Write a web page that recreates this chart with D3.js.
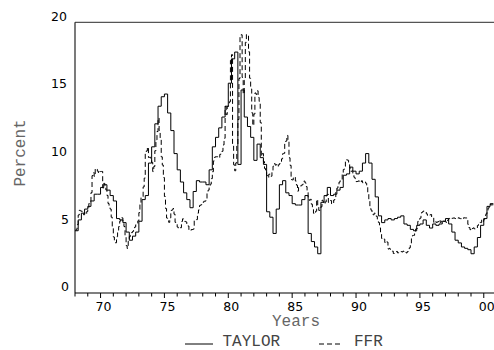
<!DOCTYPE html>
<html><head><meta charset="utf-8">
<script src="https://cdn.jsdelivr.net/npm/d3@7"></script>
<style>body{margin:0;background:#fff}svg{display:block}</style>
</head><body>
<script>
// Federal funds rate, monthly, Jan 1968 .. Sep 2000
const ffrStart = 1968;
const ffr = [
4.61,4.71,5.05,5.76,6.11,6.07,6.03,6.03,5.78,5.91,5.82,6.02,
6.30,6.61,6.79,7.41,8.67,8.90,8.61,9.19,9.15,9.00,8.85,8.97,
8.98,8.98,7.76,8.10,7.95,7.61,7.21,6.61,6.29,6.20,5.60,4.90,
4.14,3.72,3.71,4.16,4.63,4.91,5.31,5.57,5.55,5.20,4.91,4.14,
3.50,3.29,3.83,4.17,4.27,4.46,4.55,4.80,4.87,5.04,5.06,5.33,
5.94,6.58,7.09,7.12,7.84,8.49,10.40,10.50,10.78,10.01,10.03,9.95,
9.65,8.97,9.35,10.51,11.31,11.93,12.92,12.01,11.34,10.06,9.45,8.53,
7.13,6.24,5.54,5.49,5.22,5.55,6.10,6.14,6.24,5.82,5.22,5.20,
4.87,4.77,4.84,4.82,5.29,5.48,5.31,5.29,5.25,5.03,4.95,4.65,
4.61,4.68,4.69,4.73,5.35,5.39,5.42,5.90,6.14,6.47,6.51,6.56,
6.70,6.78,6.79,6.89,7.36,7.60,7.81,8.04,8.45,8.96,9.76,10.03,
10.07,10.06,10.09,10.01,10.24,10.29,10.47,10.94,11.43,13.77,13.18,13.78,
13.82,14.13,17.19,17.61,10.98,9.47,9.03,9.61,10.87,12.81,15.85,18.90,
19.08,15.93,14.70,15.72,18.52,19.10,19.04,17.82,15.87,15.08,13.31,12.37,
13.22,14.78,14.68,14.94,14.45,14.15,12.59,10.12,10.31,9.71,9.20,8.95,
8.68,8.51,8.77,8.80,8.63,8.98,9.37,9.56,9.45,9.48,9.34,9.47,
9.56,9.59,9.91,10.29,10.32,11.06,11.23,11.64,11.30,9.99,9.43,8.38,
8.35,8.50,8.58,8.27,7.97,7.53,7.88,7.90,7.92,7.99,8.05,8.27,
8.14,7.86,7.48,6.99,6.85,6.92,6.56,6.17,5.89,5.85,6.04,6.91,
6.43,6.10,6.13,6.37,6.85,6.73,6.58,6.73,7.22,7.29,6.69,6.77,
6.83,6.58,6.58,6.87,7.09,7.51,7.75,8.01,8.19,8.30,8.35,8.76,
9.12,9.36,9.85,9.84,9.81,9.53,9.24,8.99,9.02,8.84,8.55,8.45,
8.23,8.24,8.28,8.26,8.18,8.29,8.15,8.13,8.20,8.11,7.81,7.31,
6.91,6.25,6.12,5.91,5.78,5.90,5.82,5.66,5.45,5.21,4.81,4.43,
4.03,4.06,3.98,3.73,3.82,3.76,3.25,3.30,3.22,3.10,3.09,2.92,
3.02,3.03,3.07,2.96,3.00,3.04,3.06,3.03,3.09,2.99,3.02,2.96,
3.05,3.25,3.34,3.56,4.01,4.25,4.26,4.47,4.73,4.76,5.29,5.45,
5.53,5.92,5.98,6.05,6.01,6.00,5.85,5.74,5.80,5.76,5.80,5.60,
5.56,5.22,5.31,5.22,5.24,5.27,5.40,5.22,5.30,5.24,5.31,5.29,
5.25,5.19,5.39,5.51,5.50,5.56,5.52,5.54,5.54,5.50,5.52,5.50,
5.56,5.51,5.49,5.45,5.49,5.56,5.54,5.55,5.51,5.07,4.83,4.68,
4.63,4.76,4.81,4.74,4.74,4.76,4.99,5.07,5.22,5.20,5.42,5.30,
5.45,5.73,5.85,6.02,6.27,6.53,6.54,6.50,6.52
];
// Taylor rule rate, quarterly, 1968Q1 .. 2000Q3
const taylorStart = 1968;
const taylor = [
4.6,5.4,5.9,6.2, 6.4,6.8,7.3,7.3, 7.8,8.0,7.6,7.2, 6.8,5.5,5.4,5.2,
4.5,3.9,4.2,4.5, 5.3,6.9,7.2,9.6, 10.8,12.5,13.8,14.5, 14.7,13.3,12.0,10.3,
9.1,8.2,7.4,6.9, 6.3,7.5,8.3,8.2, 8.2,8.0,9.1,10.8, 11.5,12.2,13.0,13.8,
15.5,17.3,17.8,9.5, 15.0,13.0,12.3,11.5, 9.8,11.0,10.0,9.5, 6.0,5.6,4.4,6.2,
8.0,8.3,7.4,7.2, 6.6,6.5,6.5,6.9, 7.2,4.4,3.8,3.4, 2.9,6.7,7.2,7.8,
7.2,7.3,7.6,7.8, 8.7,8.8,9.3,9.0, 8.8,9.0,9.6,10.3, 9.6,8.4,7.1,5.7,
5.2,5.4,5.5,5.4, 5.5,5.6,5.7,5.1, 5.0,4.7,4.6,5.0, 5.1,5.4,5.0,4.8,
5.1,5.0,5.1,5.3, 5.5,5.1,4.5,3.9, 3.7,3.4,3.3,3.2, 2.9,3.4,4.1,5.0,
5.5,6.4,6.6
];
const yTicks = [0,5,10,15,20];
const xTickYears = [1970,1975,1980,1985,1990,1995,2000];
const xTickLabels = ["70","75","80","85","90","95","00"];
const seriesNames = ["TAYLOR","FFR"];

const W = 494, H = 350;
const mono = "'Courier New', Courier, 'Nimbus Mono PS', FreeMono, 'Liberation Mono', monospace";
const x = d3.scaleLinear().domain([1968, 2000.8]).range([75, 494]);
const y = d3.scaleLinear().domain([0, 20]).range([293, 22.3]);

const svg = d3.select("body").append("svg").attr("width", W).attr("height", H)
  .style("background", "#fff");

svg.append("defs").append("clipPath").attr("id","clip")
  .append("rect").attr("x",75).attr("y",0).attr("width",419).attr("height",293);

const ffrData = ffr.map((v,i)=>({t: ffrStart + (i+1)/12, v}));
const taylorData = taylor.map((v,i)=>({t: taylorStart + i/4, v}));
taylorData.push({t: taylorStart + taylor.length/4, v: taylor[taylor.length-1]});

const line = d3.line().x(d=>x(d.t)).y(d=>y(d.v)).curve(d3.curveStepAfter);
const ffrLine = d3.line().x(d=>x(d.t)).y(d=>y(d.v)).curve(d3.curveStepBefore);

const g = svg.append("g").attr("clip-path","url(#clip)");
g.append("path").datum([{t:1968, v:ffr[0]}].concat(ffrData)).attr("d", ffrLine)
  .attr("fill","none").attr("stroke","#000").attr("stroke-width",1)
  .attr("stroke-dasharray","5,3");
g.append("path").datum(taylorData).attr("d", line)
  .attr("fill","none").attr("stroke","#000").attr("stroke-width",1);

// frame lines
svg.append("line").attr("x1",75).attr("x2",494).attr("y1",y(20)).attr("y2",y(20))
  .attr("stroke","#555").attr("stroke-width",1.2);
svg.append("line").attr("x1",75).attr("x2",75).attr("y1",y(20)).attr("y2",y(0))
  .attr("stroke","#222").attr("stroke-width",1.2);

// x axis
const xMinor = d3.range(1968, 2001);
const xa = svg.append("g").attr("transform",`translate(0,${y(0)})`);
xa.append("line").attr("x1",75).attr("x2",494).attr("stroke","#000").attr("stroke-width",1.2);
xa.selectAll("line.t").data(xMinor).join("line").attr("class","t")
  .attr("x1",d=>x(d)).attr("x2",d=>x(d)).attr("y1",0)
  .attr("y2",d=> d%5===0 ? 5 : 3.5).attr("stroke","#000").attr("stroke-width",1);
xa.selectAll("text").data(xTickYears).join("text")
  .attr("x",(d)=>x(d)+3).attr("y",18)
  .attr("text-anchor","middle").attr("font-family","DejaVu Sans").attr("font-size",12.5)
  .attr("fill","#000").text((d,i)=>xTickLabels[i]);

// y labels
svg.selectAll("text.yl").data(yTicks).join("text").attr("class","yl")
  .attr("x",d=> d>=10 ? 67 : 69).attr("y",d=>y(d)-6)
  .attr("dy","0.35em")
  .attr("text-anchor","end").attr("font-family","DejaVu Sans").attr("font-size",12.5)
  .attr("fill","#000").text(d=>d);

// axis titles
svg.append("text").attr("x",296).attr("y",326).attr("text-anchor","middle")
  .attr("font-family",mono).attr("font-size",16).attr("fill","#666").text("Years");
svg.append("text").attr("transform","translate(25,153) rotate(-90)").attr("text-anchor","middle")
  .attr("font-family",mono).attr("font-size",16).attr("fill","#666").text("Percent");

// legend
svg.append("line").attr("x1",185).attr("x2",213).attr("y1",344).attr("y2",344)
  .attr("stroke","#000").attr("stroke-width",1);
svg.append("text").attr("x",222.5).attr("y",345.5).attr("font-family",mono)
  .attr("font-size",16).attr("fill","#444").text(seriesNames[0]);
svg.append("line").attr("x1",319).attr("x2",341).attr("y1",344).attr("y2",344)
  .attr("stroke","#000").attr("stroke-width",1).attr("stroke-dasharray","5,3");
svg.append("text").attr("x",354).attr("y",345.5).attr("font-family",mono)
  .attr("font-size",16).attr("fill","#444").text(seriesNames[1]);
</script>
</body></html>
